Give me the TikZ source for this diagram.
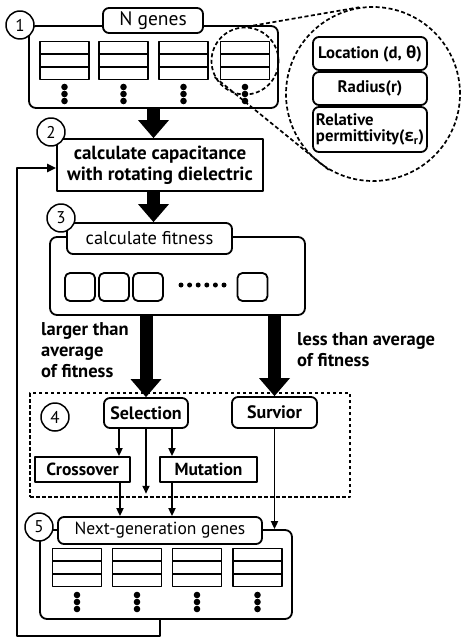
\documentclass[tikz,border=0pt]{standalone}
\usepackage{fontspec}
\setmainfont{PT Sans}
\newfontfamily\grk{Open Sans}
\usetikzlibrary{arrows.meta,calc}

\begin{document}
\begin{tikzpicture}[x=1pt, y=-1pt, line join=round,
  panel/.style={draw, line width=1.8pt, rounded corners=7pt, inner sep=0pt},
  tag/.style={draw, line width=1.8pt, rounded corners=6pt, fill=white, inner sep=0pt, font=\fontsize{18.5}{20}\selectfont},
  boldtag/.style={tag, font=\bfseries\fontsize{18}{20}\selectfont},
  plainbox/.style={draw, line width=1.8pt, fill=white, inner sep=0pt, font=\bfseries\fontsize{17.5}{21}\selectfont},
  numcirc/.style={circle, draw, line width=1.5pt, fill=white, minimum size=28pt, inner sep=0pt, font=\fontsize{17}{17}\selectfont},
  lbl/.style={inner sep=0pt, align=left, font=\bfseries\fontsize{18.5}{21}\selectfont},
  gene/.style={draw, line width=1.7pt, minimum width=49pt, minimum height=38pt, inner sep=0pt,
    path picture={
      \draw[line width=1.7pt] ($(path picture bounding box.north west)!.3333!(path picture bounding box.south west)$) -- ($(path picture bounding box.north east)!.3333!(path picture bounding box.south east)$);
      \draw[line width=1.7pt] ($(path picture bounding box.north west)!.6667!(path picture bounding box.south west)$) -- ($(path picture bounding box.north east)!.6667!(path picture bounding box.south east)$);
    }},
  vdots/.style={minimum width=8pt, minimum height=21pt, inner sep=0pt,
    path picture={
      \foreach \k in {0,1,2}
        \fill ([yshift=-3.5pt-\k*7pt]path picture bounding box.north) circle (3.3pt);
    }},
  fitbox/.style={draw, line width=1.8pt, rounded corners=5pt, minimum width=30pt, minimum height=28pt, inner sep=0pt},
  zoomline/.style={line width=1.7pt, dash pattern=on 4pt off 2.5pt},
  fatarrow/.style={line width=13pt, -{Triangle[width=31pt,length=18pt,line width=0pt]}},
  thinarrow/.style={line width=1.8pt, -{Triangle[width=7pt,length=8pt]}},
  backline/.style={line width=2.3pt, -{Triangle[width=8pt,length=9pt]}}
]
\useasboundingbox (0,0) rectangle (460,639);

% 1: initial genes
\node[panel, minimum width=249pt, minimum height=82pt] (genes) at (153.5,67) {};
\node[tag, minimum width=100pt, minimum height=25pt, font=\fontsize{19.5}{20}\selectfont] (gtag) at (153,20.5) {N genes};
\node[numcirc] (n1) at (20,25) {1};
\node[gene] (g1) at (64.5,60.5) {};
\node[gene] (g2) at (123.5,60.5) {};
\node[gene] (g3) at (183.5,60.5) {};
\node[gene] (g4) at (245,60.5) {};
\node[vdots] (d1) at (64.5,94) {};
\node[vdots] (d2) at (123.5,94) {};
\node[vdots] (d3) at (183.5,94) {};
\node[vdots] (d4) at (245,94) {};

% zoom on one gene
\node[circle, zoomline, draw, minimum size=67pt, inner sep=0pt] (zs) at (245,61) {};
\node[circle, zoomline, draw, minimum size=174pt, inner sep=0pt] (zb) at (373,94) {};
\draw[zoomline] (zs.87) -- (zb.99);
\draw[zoomline] (zs.208) -- (zb.240);
\node[boldtag, minimum width=114pt, minimum height=33pt, font=\bfseries\fontsize{16.7}{17}\selectfont] (loc) at (370,53.5) {Location (d, {\grk θ})};
\node[boldtag, minimum width=114pt, minimum height=33pt, font=\bfseries\fontsize{16.7}{17}\selectfont] (rad) at (370,88.5) {Radius(r)};
\node[boldtag, minimum width=114pt, minimum height=45pt, align=left, font=\bfseries\fontsize{16.7}{16.5}\selectfont] (perm) at (370,129.5) {Relative\\permittivity({\grk ε}\textsubscript{r})};

% 2: capacitance
\node[plainbox, minimum width=206pt, minimum height=52pt, align=center, font=\bfseries\fontsize{19}{21}\selectfont] (cap) at (160,165) {calculate capacitance\\with rotating dielectric};
\node[numcirc] (n2) at (51,132) {2};

% 3: fitness
\node[panel, minimum width=255pt, minimum height=78pt] (fit) at (177.5,276) {};
\node[tag, minimum width=165pt, minimum height=31pt] (ftag) at (149.5,238.5) {calculate fitness};
\node[numcirc] (n3) at (61,218) {3};
\node[fitbox] (f1) at (80,287) {};
\node[fitbox] (f2) at (114,287) {};
\node[fitbox] (f3) at (148,287) {};
\node[fitbox] (f4) at (252.5,287) {};
\foreach \k in {0,...,5}
  \fill (181+\k*8.6,285) circle (2.5);

\node[lbl, anchor=north west] (larger) at (41,322) {larger than\\average\\of fitness};
\node[lbl, anchor=north west] (less) at (297,332) {less than average\\of fitness};

% 4: selection
\node[draw, line width=1.5pt, dash pattern=on 3.5pt off 2.5pt, minimum width=320pt, minimum height=104pt] (stage4) at (190,445) {};
\node[numcirc] (n4) at (55,417) {4};
\node[boldtag, minimum width=84pt, minimum height=30pt] (sel) at (146,413) {Selection};
\node[boldtag, minimum width=85pt, minimum height=31pt] (surv) at (274.5,412.5) {Survior};
\node[plainbox, minimum width=95pt, minimum height=25pt] (cross) at (82.5,469.5) {Crossover};
\node[plainbox, minimum width=97pt, minimum height=25pt] (mut) at (208.5,469.5) {Mutation};

% 5: next generation
\node[panel, minimum width=252pt, minimum height=89pt] (next) at (166,574.5) {};
\node[tag, minimum width=204pt, minimum height=27pt, font=\fontsize{17.5}{20}\selectfont] (ntag) at (160,530.5) {Next-generation genes};
\node[numcirc] (n5) at (39,527) {5};
\node[gene] (h1) at (77,567.5) {};
\node[gene] (h2) at (137,567.5) {};
\node[gene] (h3) at (197,567.5) {};
\node[gene] (h4) at (257.5,567.5) {};
\node[vdots] (e1) at (77,602) {};
\node[vdots] (e2) at (137,602) {};
\node[vdots] (e3) at (197,602) {};
\node[vdots] (e4) at (257.5,602) {};

% flow
\draw[fatarrow] (genes.south) -- (genes.south |- cap.north);
\draw[fatarrow] (cap.south -| genes.south) -- (ftag.north -| genes.south);
\draw[fatarrow] (fit.south -| sel.north) -- (sel.north);
\draw[fatarrow] (fit.south -| surv.north) -- (surv.north);

\draw[thinarrow] ([xshift=-27pt]sel.south) coordinate (c1) -- (c1 |- cross.north);
\draw[thinarrow] (sel.south) -- ($(sel.south |- stage4.south)+(0,-4)$);
\draw[thinarrow] ([xshift=26pt]sel.south) coordinate (c2) -- (c2 |- mut.north);
\draw[thinarrow] ([xshift=37.5pt]cross.south) coordinate (c3) -- (c3 |- ntag.north);
\draw[thinarrow] ([xshift=-36.5pt]mut.south) coordinate (c4) -- (c4 |- ntag.north);
\draw[thinarrow] (surv.south) -- (surv.south |- next.north);

% back to step 2
\coordinate (fb) at (17,636);
\draw[backline] ([xshift=-6pt]next.south) coordinate (c5) -- (c5 |- fb) -- (fb) |- ([yshift=-3pt]cap.west);
\end{tikzpicture}
\end{document}
